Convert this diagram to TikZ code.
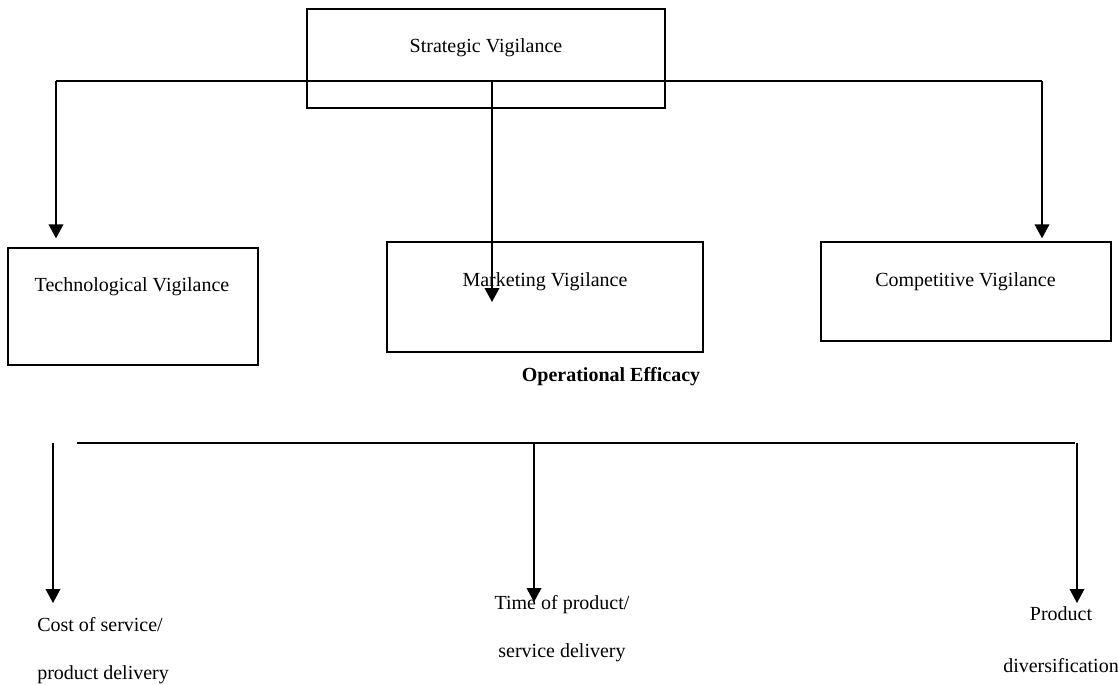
\documentclass[tikz,border=0pt]{standalone}
\usepackage{fontspec}
\setmainfont{Liberation Serif}
\usetikzlibrary{arrows.meta}

\begin{document}
\begin{tikzpicture}[x=0.75pt,y=-0.75pt,
		vbox/.style={draw,line width=1pt,inner sep=0pt},
		lbl/.style={font=\fontsize{15}{36}\selectfont,inner sep=0pt},
		wire/.style={line width=1.2pt},
		arr/.style={wire,-{Triangle[width=11pt,length=10.5pt]}}]
	\useasboundingbox (0,0) rectangle (1118,685);
	%%%%%%%%%%%%%%%%%%%
	%    vigilance    %
	%%%%%%%%%%%%%%%%%%%
		% boxes
			\node[vbox,minimum width=358*0.75pt,minimum height=99*0.75pt]  (strat) at (486,58.5)  {};
			\node[vbox,minimum width=250*0.75pt,minimum height=117*0.75pt] (tech)  at (133,306.5) {};
			\node[vbox,minimum width=316*0.75pt,minimum height=110*0.75pt] (mkt)   at (545,297)   {};
			\node[vbox,minimum width=290*0.75pt,minimum height=99*0.75pt]  (comp)  at (966,291.5) {};
		% labels
			\node[lbl] (stratlbl) at (486,48)    {Strategic Vigilance};
			\node[lbl] (techlbl)  at (132,287)   {Technological Vigilance};
			\node[lbl] (mktlbl)   at (545,282)   {Marketing Vigilance};
			\node[lbl] (complbl)  at (965.5,282) {Competitive Vigilance};
		% branches
			\coordinate (tl)   at (56,81);
			\coordinate (tm)   at (492,81);
			\coordinate (tr)   at (1042,81);
			\coordinate (mtip) at (492,302);
			\draw[wire] (tl) -- (tr);
			\draw[arr,shorten >=6.75pt] (tl) -- (tl |- tech.north);
			\draw[arr] (tm) -- (mtip);
			\draw[arr,shorten >=2.25pt] (tr) -- (tr |- comp.north);
	%%%%%%%%%%%%%%%%%%%
	%    efficacy     %
	%%%%%%%%%%%%%%%%%%%
		\node[lbl,font=\fontsize{15}{18}\selectfont\bfseries] (opeff) at (611,377) {Operational Efficacy};
		% outcomes
			\node[lbl,align=left,anchor=west] (cost) at (37,651)  {Cost of service/\\product delivery};
			\node[lbl,align=center]           (time) at (562,629) {Time of product/\\service delivery};
			\node[lbl,align=center,font=\fontsize{15}{39}\selectfont] (prod) at (1061,640) {Product\\diversification};
		% branches
			\coordinate (bl)    at (53,443);
			\coordinate (bstart) at (77,443);
			\coordinate (bm)    at (534,443);
			\coordinate (bend)  at (1075,443);
			\coordinate (br)    at (1077,443);
			\coordinate (ctip)  at (53,603);
			\coordinate (ttip)  at (534,602);
			\coordinate (ptip)  at (1077,603);
			\draw[wire] (bstart) -- (bend);
			\foreach \a/\b in {bl/ctip,bm/ttip,br/ptip}
				\draw[arr] (\a) -- (\b);
\end{tikzpicture}
\end{document}
